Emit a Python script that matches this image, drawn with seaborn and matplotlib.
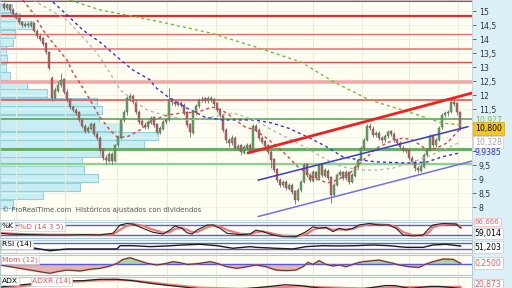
import numpy as np
import matplotlib
matplotlib.use("Agg")
import matplotlib.pyplot as plt
import seaborn as sns
from matplotlib.ticker import FuncFormatter

# ---------------- price data (bar index 0..152) ----------------
open_ = [15.25, 15.10, 15.20, 15.05, 14.90, 14.75, 14.60, 14.48, 14.55, 14.48,
         14.58, 14.30, 14.12, 14.02, 13.84, 13.52, 12.60, 11.90, 12.16, 12.34,
         12.56, 12.12, 11.84, 11.58, 11.48, 11.38, 11.12, 10.90, 10.70, 10.80,
         10.98, 10.62, 10.48, 10.06, 9.76, 9.66, 9.90, 9.66, 10.20, 10.48,
         11.10, 11.38, 11.86, 11.98, 11.76, 11.40, 11.06, 10.94, 10.84, 11.02,
         11.20, 10.95, 10.66, 10.80, 11.02, 11.12, 11.84, 11.76, 11.66, 11.72,
         11.66, 11.38, 10.95, 10.66, 11.38, 11.60, 11.84, 11.88, 11.78, 11.90,
         11.84, 11.70, 11.48, 11.30, 10.76, 10.40, 10.28, 10.48, 10.10, 10.20,
         9.94, 10.12, 10.22, 10.02, 10.90, 10.76, 10.48, 10.34, 10.20, 9.98,
         9.70, 9.34, 8.98, 8.78, 8.90, 8.66, 8.80, 8.56, 8.24, 8.60,
         8.88, 9.52, 9.16, 8.94, 9.26, 9.02, 9.52, 9.12, 9.30, 9.06,
         8.42, 8.80, 9.16, 9.24, 9.02, 9.26, 8.90, 9.12, 9.42, 9.70,
         10.10, 10.40, 10.90, 10.80, 10.56, 10.66, 10.48, 10.38, 10.52, 10.70,
         10.62, 10.40, 10.30, 10.12, 10.06, 10.02, 9.76, 9.62, 9.40, 9.30,
         9.44, 9.84, 10.06, 10.56, 10.20, 10.40, 10.84, 11.30, 11.34, 11.40,
         11.76, 11.70, 11.40]
close = [15.11, 15.21, 15.04, 14.89, 14.75, 14.61, 14.50, 14.54, 14.50, 14.57,
         14.29, 14.11, 14.00, 13.82, 13.54, 12.96, 11.89, 12.18, 12.36, 12.54,
         12.11, 11.82, 11.57, 11.46, 11.36, 11.11, 10.89, 10.71, 10.82, 10.96,
         10.61, 10.46, 10.04, 9.75, 9.68, 9.89, 9.64, 10.21, 10.50, 11.11,
         11.39, 11.89, 11.96, 11.75, 11.39, 11.04, 10.93, 10.86, 11.04, 11.18,
         10.93, 10.68, 10.82, 11.04, 11.11, 11.82, 11.75, 11.68, 11.71, 11.64,
         11.36, 10.93, 10.68, 11.39, 11.61, 11.82, 11.86, 11.79, 11.89, 11.82,
         11.68, 11.46, 11.29, 10.75, 10.39, 10.29, 10.46, 10.11, 10.18, 9.96,
         10.14, 10.21, 10.04, 10.89, 10.75, 10.46, 10.32, 10.18, 9.96, 9.68,
         9.32, 8.96, 8.79, 8.89, 8.68, 8.79, 8.54, 8.25, 8.61, 8.89,
         9.50, 9.14, 8.96, 9.25, 9.04, 9.50, 9.14, 9.32, 9.04, 8.43,
         8.79, 9.14, 9.25, 9.04, 9.25, 8.89, 9.14, 9.43, 9.68, 10.11,
         10.39, 10.89, 10.82, 10.57, 10.64, 10.46, 10.39, 10.54, 10.68, 10.61,
         10.39, 10.29, 10.14, 10.04, 10.00, 9.75, 9.61, 9.39, 9.32, 9.46,
         9.86, 10.04, 10.54, 10.21, 10.39, 10.82, 11.29, 11.36, 11.39, 11.75,
         11.68, 11.39, 10.80]
high = [15.32, 15.30, 15.26, 15.10, 14.96, 14.80, 14.66, 14.60, 14.62, 14.64,
        14.62, 14.36, 14.20, 14.06, 13.90, 13.58, 12.68, 12.30, 12.50, 12.80,
        12.62, 12.20, 11.90, 11.66, 11.55, 11.44, 11.18, 10.98, 10.90, 11.02,
        11.02, 10.70, 10.52, 10.12, 9.84, 9.96, 9.95, 10.26, 10.56, 11.16,
        11.46, 11.98, 12.08, 12.04, 11.82, 11.46, 11.14, 11.02, 11.10, 11.26,
        11.24, 11.00, 10.90, 11.10, 11.18, 12.25, 11.90, 11.82, 11.78, 11.80,
        11.70, 11.42, 11.00, 11.44, 11.68, 11.90, 11.96, 11.94, 11.98, 11.95,
        11.90, 11.74, 11.54, 11.36, 10.82, 10.48, 10.56, 10.54, 10.26, 10.26,
        10.22, 10.30, 10.28, 10.96, 10.98, 10.82, 10.54, 10.40, 10.26, 10.04,
        9.74, 9.40, 9.04, 8.96, 8.96, 8.86, 8.86, 8.62, 8.68, 8.96,
        9.56, 9.58, 9.22, 9.32, 9.30, 9.58, 9.56, 9.40, 9.36, 9.10,
        8.86, 9.20, 9.32, 9.30, 9.32, 9.30, 9.20, 9.50, 9.74, 10.18,
        10.46, 10.96, 11.00, 10.88, 10.70, 10.72, 10.54, 10.60, 10.74, 10.76,
        10.68, 10.46, 10.36, 10.20, 10.12, 10.08, 9.82, 9.68, 9.46, 9.52,
        9.92, 10.10, 10.60, 10.62, 10.46, 10.88, 11.36, 11.44, 11.46, 11.84,
        11.84, 11.74, 11.44]
low = [15.04, 15.05, 14.98, 14.82, 14.70, 14.55, 14.44, 14.42, 14.44, 14.43,
       14.24, 14.04, 13.92, 13.76, 13.48, 12.90, 11.78, 11.84, 12.10, 12.28,
       12.04, 11.76, 11.50, 11.40, 11.30, 11.05, 10.82, 10.64, 10.64, 10.74,
       10.55, 10.40, 9.98, 9.68, 9.55, 9.60, 9.54, 9.60, 10.14, 10.44,
       11.02, 11.30, 11.78, 11.68, 11.32, 10.96, 10.86, 10.78, 10.78, 10.96,
       10.86, 10.60, 10.60, 10.74, 10.96, 11.06, 11.66, 11.60, 11.60, 11.56,
       11.30, 10.86, 10.50, 10.62, 11.30, 11.52, 11.76, 11.70, 11.72, 11.74,
       11.60, 11.40, 11.20, 10.68, 10.30, 10.16, 10.20, 10.04, 10.02, 9.86,
       9.88, 10.06, 9.96, 9.98, 10.68, 10.40, 10.24, 10.10, 9.88, 9.40,
       9.26, 8.90, 8.70, 8.72, 8.60, 8.60, 8.48, 8.10, 8.20, 8.54,
       8.84, 9.08, 8.88, 8.90, 8.98, 8.98, 9.06, 9.06, 8.98, 8.15,
       8.36, 8.74, 9.10, 8.98, 8.96, 8.82, 8.84, 9.06, 9.36, 9.64,
       10.04, 10.34, 10.74, 10.50, 10.50, 10.40, 10.30, 10.32, 10.46, 10.54,
       10.32, 10.22, 10.06, 9.96, 9.92, 9.68, 9.54, 9.30, 9.22, 9.24,
       9.38, 9.78, 10.00, 10.14, 10.14, 10.36, 10.78, 11.22, 11.26, 11.34,
       11.60, 11.30, 10.74]

# ---------------- moving averages (bar index, price) ----------------
ma_red_x = [6.3, 9.7, 13, 16.3, 21, 23, 25.3, 28.7, 32, 35.3, 37.7, 41, 45.3, 49.7, 54.7,
            59.3, 64.7, 69.3, 72.7, 76, 80.3, 83.7, 87, 91.3, 94.7, 98, 102.7, 107.7, 111,
            115.3, 118.7, 124.3, 129.7, 133, 136.3, 141, 144.3, 147.7, 152.3]
ma_red_y = [15.39, 14.93, 14.32, 13.86, 13.25, 12.79, 12.43, 11.82, 11.21, 10.75, 10.50, 10.50,
            10.75, 11.11, 11.29, 11.36, 11.39, 11.57, 11.46, 11.21, 10.86, 10.75, 10.50, 10.14,
            9.79, 9.43, 9.07, 8.86, 8.96, 9.21, 9.57, 10.11, 10.39, 10.46, 10.39, 10.04, 10.11,
            10.29, 10.82]
ma_gray_x = [9.7, 15.3, 21, 26.3, 31, 35.3, 38.7, 43, 47.7, 53, 61, 67.7, 76.3, 83.7, 89.3,
             94.7, 100.3, 107.7, 113, 118.7, 124.3, 129.7, 135.3, 141, 146.3, 152.3]
ma_gray_y = [15.39, 15.04, 14.68, 14.07, 13.50, 12.79, 12.18, 11.82, 11.46, 11.29, 11.11, 11.18,
             11.36, 11.11, 10.75, 10.46, 10.14, 9.68, 9.43, 9.32, 9.32, 9.39, 9.57, 9.79, 10.04,
             10.33]
ma_blue_x = [16.3, 21, 26.3, 32, 37.7, 43, 48.7, 50.3, 54.7, 60.3, 67, 72.7, 83.7, 89.3, 94.7,
             102, 107.7, 113, 118.7, 124.3, 135.3, 141, 146.3, 152.3]
ma_blue_y = [15.32, 14.86, 14.32, 13.89, 13.36, 12.89, 12.54, 12.29, 11.93, 11.57, 11.21, 11.11,
             11.11, 11.00, 10.82, 10.46, 10.14, 9.79, 9.68, 9.61, 9.57, 9.61, 9.80, 9.94]
ma_green_x = [22, 32, 44, 54, 69, 84, 99, 110, 122, 135, 146, 152.3]
ma_green_y = [15.39, 15.04, 14.79, 14.57, 14.21, 13.71, 13.18, 12.46, 11.82, 11.39, 11.00, 10.93]

# ---------------- drawn lines ----------------
resist_levels = [15.37, 14.82, 14.18, 13.64, 13.18, 12.46, 11.82]
support_levels = [11.14, 10.07, 9.54]
trend_red_x, trend_red_y = [81.3, 156], [9.93, 12.07]
chan_up_x, chan_up_y = [84.7, 154.7], [8.96, 10.87]
chan_lo_x, chan_lo_y = [84.7, 156], [7.66, 9.64]
month_idx = [4, 20.3, 37.7, 54.3, 70.7, 87.7, 103, 119.3, 135, 151.3]

# ---------------- volume profile ----------------
vp_price = [8.12, 8.42, 8.72, 9.03, 9.33, 9.64, 9.94, 10.24, 10.55, 10.85, 11.15, 11.46,
            11.76, 12.07, 12.37, 12.67, 12.98, 13.28, 13.59, 13.89, 14.19, 14.50, 14.80, 15.10]
vp_volume = [13, 43, 80, 98, 84, 82, 100, 144, 158, 122, 99, 102, 97, 47, 27, 10, 6, 7, 6,
             13, 15, 33, 20, 12]

# ---------------- indicators ----------------
k_x = [-1.3, 2, 5.3, 9.7, 15.3, 21, 26.3, 32, 36.3, 38.7, 41, 43, 46.3, 49.7, 53, 55.3, 57,
       59.3, 61, 62.7, 64.3, 67.7, 69.7, 72, 74.3, 78.7, 82, 84, 86.3, 89.7, 93, 97.3, 100.7,
       103, 105, 107.3, 109.7, 111.7, 114, 116.3, 118.3, 121.7, 125, 128.3, 130.7, 133,
       136.3, 139.7, 141.7, 143, 146.3, 150.7, 152.3]
k_val = [28, 23, 21, 19, 17, 17, 19, 17, 28, 80, 90, 86, 59, 34, 23, 48, 74, 59, 31, 23,
         48, 80, 80, 59, 28, 19, 23, 48, 38, 17, 6, 6, 38, 69, 59, 65, 38, 59, 48, 59,
         80, 90, 80, 80, 59, 17, 11, 17, 59, 80, 90, 86, 59]
d_val = [30, 26, 23, 21, 19, 18, 18, 18, 21, 50, 75, 86, 75, 50, 32, 35, 55, 62, 50, 35,
         35, 65, 78, 72, 48, 25, 21, 35, 40, 25, 12, 7, 22, 50, 62, 62, 50, 52, 52, 55,
         70, 85, 84, 80, 68, 35, 16, 14, 35, 65, 84, 88, 66]
rsi_x = [-1.3, 5.3, 9.7, 15.3, 21, 26.3, 32, 37.7, 38.7, 43, 48.7, 54.3, 59.7, 65.3, 71,
         76.3, 82, 84, 90.7, 96.3, 100.7, 106.3, 111.7, 117.3, 123, 128.3, 134, 139.7, 143,
         147.3, 152.3]
rsi_val = [42, 40, 38, 17, 30, 30, 30, 30, 54, 54, 47, 52, 59, 64, 54, 35, 47, 42, 35, 30,
           47, 54, 52, 54, 59, 54, 42, 42, 59, 64, 51]
mom_x = [-1.3, 2, 5.3, 8.7, 12, 15.3, 17.7, 21, 25.3, 28.7, 32, 35.3, 37.7, 39.7, 42, 44.3,
         47.7, 51, 54.3, 56.3, 58.7, 61, 63, 65.3, 68.7, 71, 74.3, 77.7, 81, 84, 87.3, 90.7,
         94, 97.3, 99.7, 101.3, 103, 105, 107.3, 109.7, 111.7, 114, 117.3, 119.7, 123, 125,
         127.3, 129.7, 131.7, 135, 138.3, 140.7, 143, 146.3, 149.7, 151.7, 152.3]
mom_val = [-0.14, -0.38, -0.62, -0.86, -1.1, -1.33, -1.1, -0.86, -1.0, -0.76,
           -0.62, -0.29, 0.10, 0.67, 0.90, 0.57, 0.10, -0.14, 0.10, 0.33,
           0.19, -0.05, 0.0, 0.10, 0.33, 0.10, -0.38, -0.62, -0.38, -0.14,
           -0.38, -0.86, -0.95, -0.86, -0.38, 0.24, -0.05, 0.48, -0.05, -0.29,
           -0.14, -0.38, 0.10, 0.33, 0.48, 0.57, 0.33, 0.10, -0.14, -0.38,
           -0.48, 0.0, 0.33, 0.71, 0.67, 0.19, 0.10]
adx_x = [-1.3, 5.3, 12, 17.7, 26.3, 32, 37.7, 43, 48.7, 54.3, 59.7, 65.3, 78.7, 88.7, 93.7,
         98.7, 105.3, 118.7, 127, 130.3, 135.3, 142, 145.3, 152.3]
adx_val = [20.5, 25.4, 30.3, 35.2, 36, 39.4, 39.4, 36, 29.6, 24.7, 20.5, 16, 15, 22, 26, 24,
           18, 15, 24, 24, 17, 22, 22, 17]
adxr_x = [-1.3, 5.3, 12, 17.7, 26.3, 32, 37.7, 43, 48.7, 54.3, 59.7, 65.3, 78.7, 88.7, 98.7,
          105.3, 118.7, 130.3, 142, 152.3]
adxr_val = [17, 22, 27, 32, 34.5, 37, 38, 36, 32, 27, 23, 19, 16, 19, 22, 20, 17, 20, 20, 21]

# labels hidden behind the value boxes on the price scale
hidden_ticks = [10.0, 10.5, 11.0]

# ---------------- figure ----------------
sns.set_style("white")
plt.rcParams['font.family'] = ['DejaVu Sans']

W, H = 512, 288
fig = plt.figure(figsize=(5.12, 2.88), dpi=100)
fig.patch.set_facecolor('white')


def rect(x0, y0, x1, y1):
    return [x0 / W, 1 - y1 / H, (x1 - x0) / W, (y1 - y0) / H]


bg = fig.add_axes(rect(472, 0, 512, 288), zorder=-5)
bg.set_facecolor('#dcf1f7')
bg.set_xticks([]); bg.set_yticks([])
for s in bg.spines.values():
    s.set_visible(False)

PLOT_BG = '#fefef3'
YMIN, YMAX = 7.536, 15.393
XMIN, XMAX = -1.333, 156

# volume-profile axis (behind)
axv = fig.add_axes(rect(0, 0, 472, 220))
axv.set_facecolor(PLOT_BG)
axv.barh(vp_price, vp_volume, height=0.29, color='#c8eef3', edgecolor='#92d0da', lw=0.8,
         align='center')
axv.set_xlim(0, 472)
axv.set_ylim(YMIN, YMAX)
axv.tick_params(left=False, labelleft=False, bottom=False, labelbottom=False)
for s in axv.spines.values():
    s.set_visible(False)

ax = fig.add_axes(rect(0, 0, 472, 220), sharey=axv)
ax.patch.set_visible(False)
ax.set_xlim(XMIN, XMAX)
ax.set_ylim(YMIN, YMAX)

idx = np.arange(len(close))
o = np.array(open_); c = np.array(close)
up = c >= o
bot = np.minimum(o, c)
hgt = np.maximum(np.abs(c - o), 0.03)
ax.vlines(idx, low, high, color='#6e6e6e', lw=0.6, zorder=4)
ax.bar(idx[up], hgt[up], bottom=bot[up], width=0.72, color='#5aab5a', edgecolor='#5a5a5a',
       lw=0.3, zorder=5)
ax.bar(idx[~up], hgt[~up], bottom=bot[~up], width=0.72, color='#c25c5c', edgecolor='#5a5a5a',
       lw=0.3, zorder=5)

# horizontal levels
res_styles = [('#e83030', 1.5), ('#e52a2a', 1.6), ('#f26a6a', 1.0), ('#f08a8a', 1.4),
              ('#f04848', 1.0), ('#f2a8a8', 2.6), ('#f04040', 1.1)]
for lv, (col, lw) in zip(resist_levels, res_styles):
    ax.axhline(lv, color=col, lw=lw, zorder=2)
sup_styles = [('#4f9f4f', 1.1), ('#6aae6a', 2.2), ('#90d090', 1.6)]
for lv, (col, lw) in zip(support_levels, sup_styles):
    ax.axhline(lv, color=col, lw=lw, zorder=2)

# moving averages
dash = (0, (2.2, 2.2))
sns.lineplot(x=ma_green_x, y=ma_green_y, ax=ax, color='#6cbf44', lw=1.0, linestyle=dash, zorder=6)
sns.lineplot(x=ma_blue_x, y=ma_blue_y, ax=ax, color='#3434d4', lw=1.0, linestyle=dash, zorder=6)
sns.lineplot(x=ma_gray_x, y=ma_gray_y, ax=ax, color='#b8b8b8', lw=1.0, linestyle=dash, zorder=6)
sns.lineplot(x=ma_red_x, y=ma_red_y, ax=ax, color='#e04040', lw=1.0, linestyle=dash, zorder=6)

# trend lines
sns.lineplot(x=trend_red_x, y=trend_red_y, ax=ax, color='#ee2020', lw=2.0, zorder=7)
sns.lineplot(x=chan_up_x, y=chan_up_y, ax=ax, color='#3a3ad0', lw=1.1, zorder=7)
sns.lineplot(x=chan_lo_x, y=chan_lo_y, ax=ax, color='#7070ea', lw=1.1, zorder=7)

ax.set_xlim(XMIN, XMAX)
ax.set_ylim(YMIN, YMAX)
ax.set_xticks(month_idx)
ax.set_yticks(np.arange(8, 15.01, 0.5))
ax.grid(axis='x', color='#ecebd4', lw=0.8, zorder=0)
ax.grid(axis='y', color='#efefe6', lw=0.6, zorder=0)
ax.set_axisbelow(True)
ax.yaxis.tick_right()


def price_fmt(v, p):
    if any(abs(v - h) < 1e-6 for h in hidden_ticks):
        return ''
    return (f"{v:g}").replace('.', ',')


ax.yaxis.set_major_formatter(FuncFormatter(price_fmt))
ax.tick_params(axis='y', labelsize=5.6, colors='#555555', labelcolor='#333333', length=3,
               width=0.6, pad=2, right=True, labelright=True, left=False, labelleft=False)
ax.tick_params(axis='x', length=0, labelbottom=False)
ax.set_xlabel(''); ax.set_ylabel('')
for s in ax.spines.values():
    s.set_color('#c4d4dc'); s.set_linewidth(0.6)

ax.text(0.004, 0.03, "© ProRealTime.com  Históricos ajustados con dividendos",
        transform=ax.transAxes, fontsize=5, color='#555555', ha='left', va='bottom')

ty = ax.get_yaxis_transform()
box = dict(boxstyle='square,pad=0.2', fc='white', ec='#c8c8c8', lw=0.5)
ax.text(1.006, 11.09, "10,927", transform=ty, fontsize=5.6, color='#77bb66', va='center',
        ha='left', clip_on=False)
ax.text(1.006, 10.80, "10,800", transform=ty, fontsize=5.6, color='black', va='center',
        ha='left', clip_on=False,
        bbox=dict(boxstyle='square,pad=0.25', fc='#f6c623', ec='#d8a800', lw=0.5))
ax.text(1.006, 10.32, "10,328", transform=ty, fontsize=5.6, color='#a8a8a8', va='center',
        ha='left', clip_on=False, bbox=box)
ax.text(1.006, 9.94, "9,9385", transform=ty, fontsize=5.6, color='#3030c8', va='center',
        ha='left', clip_on=False)


def panel(y0, y1, ylim):
    a = fig.add_axes(rect(0, y0, 472, y1), sharex=ax)
    a.set_facecolor(PLOT_BG)
    a.set_ylim(*ylim)
    a.grid(axis='x', color='#ecebd4', lw=0.8)
    a.set_axisbelow(True)
    a.tick_params(left=False, labelleft=False, bottom=False, labelbottom=False,
                  right=False, labelright=False)
    for s in a.spines.values():
        s.set_color('#a9cadb'); s.set_linewidth(0.8)
    return a


def title(a, parts):
    for x, txt, col in parts:
        a.text(x, 0.93, txt, transform=a.transAxes, fontsize=5.4, color=col, ha='left',
               va='top', bbox=dict(boxstyle='square,pad=0.15', fc='white', ec='#d0d0d0', lw=0.5),
               zorder=10)


def rlabel(a, y, txt, col, ec='#c8c8c8', fs=5.6):
    a.text(1.006, y, txt, transform=a.get_yaxis_transform(), fontsize=fs, color=col,
           va='center', ha='left', clip_on=False,
           bbox=dict(boxstyle='square,pad=0.15', fc='white', ec=ec, lw=0.5))


# %K / %D
ak = panel(222, 238, (-2, 99))
ak.axhline(80, color='#5a5ae0', lw=1.0)
ak.axhline(20, color='#5a5ae0', lw=1.0)
sns.lineplot(x=k_x, y=d_val, ax=ak, color='#ec7a7a', lw=1.6)
sns.lineplot(x=k_x, y=k_val, ax=ak, color='#222222', lw=0.8)
title(ak, [(0.004, "%K", 'black'), (0.04, "%D (14 3 5)", '#e05858')])
rlabel(ak, 97, "66,666", '#e06060', '#f0b0b0', fs=5.0)
rlabel(ak, 28, "59,014", 'black')

# RSI
ar = panel(240, 253, (0.7, 95.3))
ar.axhline(70, color='#5a5ae0', lw=1.0)
ar.axhline(30, color='#5a5ae0', lw=1.0)
sns.lineplot(x=rsi_x, y=rsi_val, ax=ar, color='#1a1a1a', lw=1.0)
title(ar, [(0.004, "RSI (14)", 'black')])
rlabel(ar, 44, "51,203", 'black')

# Momentum
am = panel(255, 275, (-1.57, 1.29))
mx = np.array(mom_x); mv = np.array(mom_val)
am.fill_between(mx, 0, mv, where=mv >= 0, interpolate=True, color='#a9d9a0', lw=0)
am.fill_between(mx, 0, mv, where=mv < 0, interpolate=True, color='#e6b4b0', lw=0)
am.axhline(0, color='#5a5ae0', lw=1.0)
sns.lineplot(x=mom_x, y=mom_val, ax=am, color='#ee7070', lw=1.4, alpha=0.8)
sns.lineplot(x=mom_x, y=mom_val, ax=am, color='#333333', lw=0.6)
title(am, [(0.004, "Mom (12)", '#e05858')])
rlabel(am, 0.14, "0,2500", '#e06060', '#f0b0b0')

# ADX
aa = panel(277, 290, (18.05 - 2 * 2.45, 45))
sns.lineplot(x=adxr_x, y=adxr_val, ax=aa, color='#ee8080', lw=1.6)
sns.lineplot(x=adx_x, y=adx_val, ax=aa, color='#222222', lw=0.9)
title(aa, [(0.004, "ADX", 'black'), (0.068, "ADXR (14)", '#e05858')])
rlabel(aa, 25.4, "20,873", '#e06060', '#f0b0b0')

for a in (ak, ar, am, aa):
    a.set_xlabel(''); a.set_ylabel('')
    a.set_xlim(XMIN, XMAX)

fig.savefig('out.png', dpi=100)
